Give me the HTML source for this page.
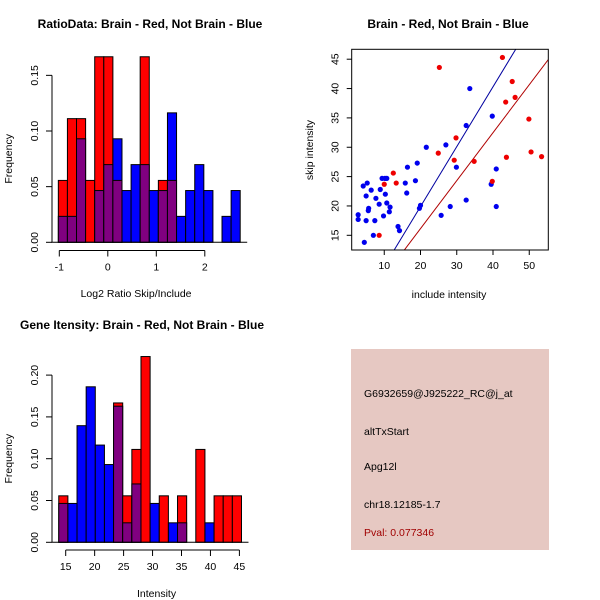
<!DOCTYPE html>
<html><head><meta charset="utf-8">
<style>
html,body{margin:0;padding:0;background:#fff;}
svg{display:block;font-family:"Liberation Sans",sans-serif;}
.t{font-size:12px;font-weight:bold;}
.l{font-size:10.5px;}
</style></head>
<body>
<svg id="s" width="600" height="600" xmlns="http://www.w3.org/2000/svg">
<rect width="600" height="600" fill="#fff"/>
<text class="t" x="150" y="28" text-anchor="middle">RatioData: Brain - Red, Not Brain - Blue</text>
<text class="t" x="448" y="28" text-anchor="middle">Brain - Red, Not Brain - Blue</text>
<text class="t" x="142" y="329" text-anchor="middle">Gene Itensity: Brain - Red, Not Brain - Blue</text>
<g id="info">
<rect x="351" y="349" width="198" height="201" fill="#e6c8c2"/>
<text class="l" x="364" y="397">G6932659@J925222_RC@j_at</text>
<text class="l" x="364" y="435">altTxStart</text>
<text class="l" x="364" y="470">Apg12l</text>
<text class="l" x="364" y="508">chr18.12185-1.7</text>
<text class="l" x="364" y="536" fill="#a00000">Pval: 0.077346</text>
</g>
</svg>
<script>
// Ratio histogram data
const ratioStart = -1.02;
const ratioWidth = 0.1875;
const ratioRed  = [0.0556,0.1111,0.1111,0.0556,0.1667,0.1667,0.0556,0,0,0.1667,0,0.0556,0.0556,0,0,0,0,0,0,0];
const ratioBlue = [0.0233,0.0233,0.0930,0,0.0465,0.0698,0.0930,0.0465,0.0698,0.0698,0.0465,0.0465,0.1163,0.0233,0.0465,0.0698,0.0465,0,0.0233,0.0465];
const ratioXTicks = [-1,0,1,2];
const ratioYTicks = ["0.00","0.05","0.10","0.15"];
// Intensity histogram data
const intStart = 13.8;
const intWidth = 1.578;
const intRed  = [0.0556,0,0,0,0,0,0.1667,0.0556,0.1111,0.2222,0,0.0556,0,0.0556,0,0.1111,0,0.0556,0.0556,0.0556];
const intBlue = [0.0465,0.0465,0.1395,0.1860,0.1163,0.0930,0.1628,0.0233,0.0698,0,0.0465,0,0.0233,0.0233,0,0,0.0233,0,0,0];
const intXTicks = [15,20,25,30,35,40,45];
const intYTicks = ["0.00","0.05","0.10","0.15","0.20"];
// Scatter data
const redX = [25.2,42.6,45.3,43.5,46.1,29.8,24.9,29.3,34.8,49.9,50.5,53.4,43.7,39.8,12.5,13.3,10.0,8.6];
const redY = [43.6,45.3,41.2,37.7,38.5,31.6,29.0,27.8,27.6,34.8,29.2,28.4,28.3,24.2,25.6,23.9,23.7,15.0];
const blueX = [2.8,2.8,4.5,4.2,5.3,5.0,5.7,5.6,5.0,6.4,7.4,7.0,7.7,8.6,8.9,9.4,10.2,10.7,10.3,10.7,9.8,11.6,11.4,13.8,14.2,15.8,16.2,16.4,18.6,19.1,19.7,20.0,21.6,27.0,25.7,28.2,29.9,32.6,33.6,32.6,39.8,39.5,40.9,40.9];
const blueY = [18.5,17.7,13.8,23.4,23.9,21.7,19.6,19.2,17.5,22.7,17.5,15.0,21.3,20.3,22.8,24.7,24.7,24.7,22.0,20.5,18.3,19.8,19.0,16.5,15.8,23.9,22.2,26.6,24.3,27.3,19.6,20.1,30.0,30.4,18.4,19.9,26.6,33.7,40.0,21.0,35.3,23.7,26.3,19.9];
const fitBlue = [-0.5, 1.02];
const fitRed = [-0.2, 0.817];
const scXTicks = [10,20,30,40,50];
const scYTicks = [15,20,25,30,35,40,45];

const NS="http://www.w3.org/2000/svg";
const svg=document.getElementById('s');
function mk(tag,attrs,parent){const e=document.createElementNS(NS,tag);for(const k in attrs)e.setAttribute(k,attrs[k]);(parent||svg).appendChild(e);return e;}
function txt(x,y,s,rot,parent){const e=mk('text',{x:x,y:y,'font-size':'10.5','text-anchor':'middle'},parent);if(rot)e.setAttribute('transform','rotate(-90 '+x+' '+y+')');e.textContent=s;return e;}

function hist(name,start,width,red,blue,refVal,refPx,xScale,y0px,yScale,xTicks,yTicks,xAxisY,xlab,xlabY,ylabX){
  const g=mk('g',{});
  
  
  const X=v=>refPx+(v-refVal)*xScale, Y=v=>y0px-v*yScale;
  for(let i=0;i<red.length;i++){
    const a=X(start+i*width), b=X(start+(i+1)*width);
    const r=red[i], bl=blue[i];
    const mx=Math.max(r,bl), mn=Math.min(r,bl);
    if(mx>0){
      const e=mk('rect',{x:a,y:Y(mx),width:b-a,height:Y(0)-Y(mx),fill:r>=bl?'#ff0000':'#0000ff',stroke:'#000','stroke-width':1},g);
      
      
    }
    if(mn>0){
      const e=mk('rect',{x:a,y:Y(mn),width:b-a,height:Y(0)-Y(mn),fill:'#800080',stroke:'#000','stroke-width':1},g);
      
      
    }
  }
  mk('line',{x1:X(start)-7,x2:X(start+red.length*width)+7,y1:Y(0),y2:Y(0),stroke:'#000','stroke-width':1},g);
  mk('line',{x1:X(xTicks[0]),x2:X(xTicks[xTicks.length-1]),y1:xAxisY,y2:xAxisY,stroke:'#000'},g);
  xTicks.forEach(t=>{mk('line',{x1:X(t),x2:X(t),y1:xAxisY,y2:xAxisY+6,stroke:'#000'},g);txt(X(t),xAxisY+20,String(t),false,g);});
  const yx=52;
  const yv=yTicks.map(parseFloat);
  mk('line',{x1:yx,x2:yx,y1:Y(yv[0]),y2:Y(yv[yv.length-1]),stroke:'#000'},g);
  yTicks.forEach(t=>{const v=parseFloat(t);mk('line',{x1:yx-6,x2:yx,y1:Y(v),y2:Y(v),stroke:'#000'},g);txt(yx-14,Y(v),t,true,g);});
  txt((X(xTicks[0])+X(xTicks[xTicks.length-1]))/2+4,xlabY,xlab,false,g);
  txt(ylabX,(Y(yv[0])+Y(yv[yv.length-1]))/2,'Frequency',true,g);
}
hist('ratio-histogram',ratioStart,ratioWidth,ratioRed,ratioBlue,-1,59.3,48.5,242.3,1113,ratioXTicks,ratioYTicks,250.5,'Log2 Ratio Skip/Include',297,12);
hist('intensity-histogram',intStart,intWidth,intRed,intBlue,15,65.7,5.79,542.3,836,intXTicks,intYTicks,550,'Intensity',597,12);

(function(){
  const g=mk('g',{});
  
  
  const X=v=>348+v*3.625, Y=v=>235.3-(v-15)*5.87;
  const L=351.7,R=548.3,T=49.3,B=250;
  const cp=mk('clipPath',{id:'cp'},g);mk('rect',{x:L,y:T,width:R-L,height:B-T},cp);
  [[fitBlue,'#0000a0'],[fitRed,'#b00000']].forEach(([f,c])=>{
    const e=mk('line',{x1:X(0),y1:Y(f[0]),x2:X(60),y2:Y(f[0]+f[1]*60),stroke:c,'stroke-width':1,'clip-path':'url(#cp)'},g);
    
    
  });
  blueX.forEach((x,i)=>{const e=mk('circle',{cx:X(x),cy:Y(blueY[i]),r:2.6,fill:'#0000ee'},g);
    
    });
  redX.forEach((x,i)=>{const e=mk('circle',{cx:X(x),cy:Y(redY[i]),r:2.6,fill:'#ee0000'},g);
    
    });
  mk('rect',{x:L,y:T,width:R-L,height:B-T,fill:'none',stroke:'#000'},g);
  scXTicks.forEach(t=>{mk('line',{x1:X(t),x2:X(t),y1:B,y2:B+5,stroke:'#000'},g);txt(X(t),B+19,String(t),false,g);});
  scYTicks.forEach(t=>{mk('line',{x1:L-5,x2:L,y1:Y(t),y2:Y(t),stroke:'#000'},g);txt(L-13,Y(t),String(t),true,g);});
  txt(449,298,'include intensity',false,g);
  txt(313,150,'skip intensity',true,g);
})();
</script>
</body></html>
